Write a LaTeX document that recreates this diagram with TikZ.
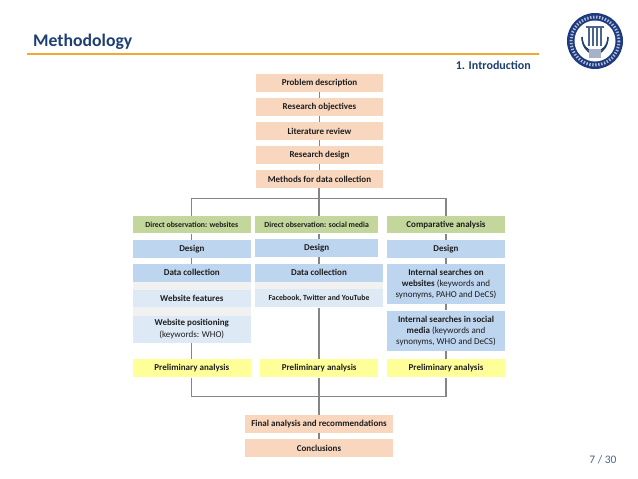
\documentclass[tikz,border=0pt]{standalone}
\usepackage{fontspec}
\setmainfont{Carlito}
\definecolor{peach}{HTML}{F9D6BE}
\definecolor{sage}{HTML}{C3D69B}
\definecolor{skyb}{HTML}{BDD5EE}
\definecolor{palb}{HTML}{DEE9F6}
\definecolor{lemon}{HTML}{FFFF99}
\definecolor{bandg}{HTML}{F1F1F1}
\definecolor{linkg}{HTML}{858585}
\definecolor{navy}{HTML}{1F3F73}
\definecolor{ruleo}{HTML}{F0A830}
\definecolor{inkd}{HTML}{1E1E1E}
\tikzset{
  box/.style={draw=none,inner sep=0pt,align=center,text=inkd,font=\fontsize{9}{11}\selectfont\bfseries},
  peachbox/.style={box,fill=peach},
  sagebox/.style={box,fill=sage},
  skybox/.style={box,fill=skyb},
  palebox/.style={box,fill=palb},
  lemonbox/.style={box,fill=lemon},
  link/.style={draw=linkg,line width=1.4pt},
  shortlink/.style={draw=linkg,line width=1.1pt},
  dims/.style 2 args={minimum width=#1,minimum height=#2},
  head/.style={inner sep=0pt,text=navy,font=\bfseries}
}
\newcommand{\nb}{\mdseries}
\begin{document}
\begin{tikzpicture}[x=1pt,y=-1pt]
\useasboundingbox (0,0) rectangle (638,479);
\fill[white] (0,0) rectangle (638,479);
% header
\node[head,anchor=base west,font=\fontsize{17.7}{20}\selectfont\bfseries] (title) at (33,46) {Methodology};
\coordinate (ruleL) at (27,54.4);
\coordinate (ruleR) at (539,54.4);
\draw[ruleo,line width=2.1pt] (ruleL) -- (ruleR);
\node[head,anchor=base east,font=\fontsize{12}{14}\selectfont\bfseries] (sect) at (531,69) {1. Introduction};
\node[anchor=center,inner sep=0pt,text=navy!80,font=\fontsize{11.5}{14}\selectfont] (page) at (603,459.5) {7 / 30};
% logo
\fill[navy!90!blue] (595,41) circle [radius=28];
\draw[white!65!navy,line width=3pt,dash pattern=on 1.4pt off 1.6pt] (595,41) circle [radius=24];
\fill[white] (595,41) circle [radius=20.5];
\draw[navy,line width=1.4pt] (582,37) arc [start angle=180,end angle=0,x radius=13,y radius=15];
\foreach \cx in {588,592,596,600}{\fill[navy!80] (\cx,27) rectangle (\cx+2.2,46);}
\fill[navy!80] (586,26) rectangle (604,28);
\draw[navy,line width=1.1pt] (582,37) .. controls (582,48) and (588,51) .. (590,53);
\draw[navy,line width=1.1pt] (608,37) .. controls (608,48) and (602,51) .. (600,53);
\fill[navy!40] (589,49) rectangle (601,58);
% column axes
\coordinate (axA) at (191.7,0);
\coordinate (axB) at (319,0);
\coordinate (axC) at (446,0);
% bands behind
\fill[bandg] (133,281) rectangle (251,316);
\fill[bandg] (255,281) rectangle (383,290);
% top chain
\node[peachbox,dims={127}{17.6}] (p1) at (319.5,83.2) {Problem description};
\node[peachbox,dims={127}{17.6}] (p2) at (319.5,107.2) {Research objectives};
\node[peachbox,dims={127}{17.6}] (p3) at (319.5,131.2) {Literature review};
\node[peachbox,dims={127}{17.6}] (p4) at (319.5,155.2) {Research design};
\node[peachbox,dims={127}{17.6}] (p5) at (319.5,179.2) {Methods for data collection};
% column A
\node[sagebox,dims={118.4}{17.4},font=\fontsize{7.8}{10}\selectfont\bfseries] (gA) at (191.8,224.7) {Direct observation: websites};
\node[skybox,dims={118.4}{17.6}] (dA) at (191.8,248.8) {Design};
\node[skybox,dims={118.4}{17.6}] (cA) at (191.8,272.8) {Data collection};
\node[palebox,dims={118.4}{16.8}] (wA) at (191.8,298.4) {Website features};
\node[palebox,dims={118.4}{27}] (sA) at (191.8,329.2) {Website positioning\\[1pt]{\nb (keywords: WHO)}};
\node[lemonbox,dims={118.4}{18}] (yA) at (191.8,368.3) {Preliminary analysis};
% column B
\node[sagebox,dims={123.4}{17.4},font=\fontsize{7.8}{10}\selectfont\bfseries] (gB) at (316.7,224.7) {Direct observation: social media};
\node[skybox,dims={123.4}{17.6}] (dB) at (316.7,248) {Design};
\node[skybox,dims={128}{17.6}] (cB) at (319,272.8) {Data collection};
\node[palebox,dims={128}{18},font=\fontsize{7.8}{10}\selectfont\bfseries] (wB) at (319,298.3) {Facebook, Twitter and YouTube};
\node[lemonbox,dims={118.4}{18}] (yB) at (319.2,368.3) {Preliminary analysis};
% column C
\node[sagebox,dims={118.6}{17.4}] (gC) at (446,224.7) {Comparative analysis};
\node[skybox,dims={118.6}{17.6}] (dC) at (446,248.8) {Design};
\node[skybox,dims={118.6}{40}] (iC) at (446,284) {Internal searches on\\websites {\nb (keywords and}\\{\nb synonyms, PAHO and DeCS)}};
\node[skybox,dims={118.6}{40.4}] (jC) at (446,330.8) {Internal searches in social\\media {\nb (keywords and}\\{\nb synonyms, WHO and DeCS)}};
\node[lemonbox,dims={118.6}{18}] (yC) at (446,368.3) {Preliminary analysis};
% bottom chain
\node[peachbox,dims={148.4}{17.8}] (f1) at (319,423.9) {Final analysis and recommendations};
\node[peachbox,dims={148.4}{17.8}] (f2) at (319,447.9) {Conclusions};
% junctions
\coordinate (topbus) at (319,198.3);
\coordinate (botbus) at (319,396.7);
% connectors
\draw[shortlink] (p1) -- (p2);
\draw[shortlink] (p2) -- (p3);
\draw[shortlink] (p3) -- (p4);
\draw[shortlink] (p4) -- (p5);
\draw[link] (p5.south -| axB) -- (topbus);
\draw[link] (gA.north -| axA) -- (topbus -| axA) -- (topbus -| axC) -- (gC.north -| axC);
\draw[link] (topbus) -- (gB.north -| axB);
\draw[shortlink] (gA.south -| axA) -- (dA.north -| axA);
\draw[shortlink] (dA.south -| axA) -- (cA.north -| axA);
\draw[shortlink] (gB.south -| axB) -- (dB.north -| axB);
\draw[shortlink] (dB.south -| axB) -- (cB.north -| axB);
\draw[shortlink] (gC.south -| axC) -- (dC.north -| axC);
\draw[shortlink] (dC.south -| axC) -- (iC.north -| axC);
\draw[shortlink] (iC.south -| axC) -- (jC.north -| axC);
\draw[link] (sA.south -| axA) -- (yA.north -| axA);
\draw[link] (wB.south -| axB) -- (yB.north -| axB);
\draw[link] (jC.south -| axC) -- (yC.north -| axC);
\draw[link] (yA.south -| axA) -- (botbus -| axA) -- (botbus -| axC) -- (yC.south -| axC);
\draw[link] (yB.south -| axB) -- (f1.north -| axB);
\draw[shortlink] (f1) -- (f2);
\end{tikzpicture}
\end{document}
